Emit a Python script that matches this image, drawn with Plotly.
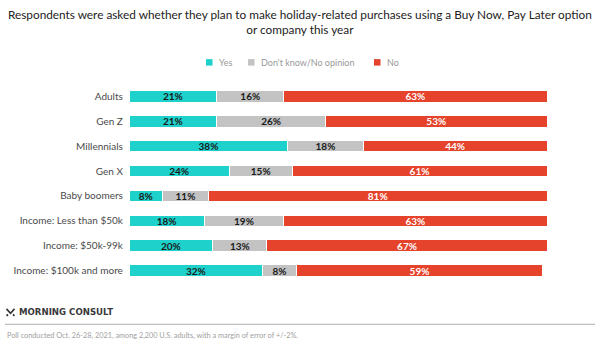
import plotly.graph_objects as go

categories = ["Adults", "Gen Z", "Millennials", "Gen X", "Baby boomers",
              "Income: Less than $50k", "Income: $50k-99k", "Income: $100k and more"]
yes = [21, 21, 38, 24, 8, 18, 20, 32]
dont_know = [16, 26, 18, 15, 11, 19, 13, 8]
no = [63, 53, 44, 61, 81, 63, 67, 59]

series = [
    ("Yes", yes, "#1fd1cb", "#1a1a1a"),
    ("Don't know/No opinion", dont_know, "#c3c3c3", "#1a1a1a"),
    ("No", no, "#e5432b", "#ffffff"),
]

FONT = "Lato"
W, H = 600, 343
L, R, T, B = 129, 53, 83.5, 59.5
PW, PH = W - L - R, H - T - B


def px(x):
    return (x - L) / PW


def py(y):
    return (H - B - y) / PH


fig = go.Figure()
for name, vals, color, tcolor in series:
    fig.add_trace(go.Bar(
        y=categories, x=vals, name=name, orientation="h",
        marker=dict(color=color, line=dict(color="white", width=1)),
        width=0.46,
        text=[f"<b>{v}%</b>" for v in vals], textposition="inside",
        insidetextanchor="middle", textangle=0,
        textfont=dict(color=tcolor, size=10, family=FONT),
        hoverinfo="skip", showlegend=False,
    ))

fig.update_layout(
    barmode="stack",
    width=W, height=H,
    margin=dict(l=L, r=R, t=T, b=B),
    plot_bgcolor="white", paper_bgcolor="white",
    font=dict(family=FONT, color="#444"),
    showlegend=False,
    xaxis=dict(range=[0, 100], visible=False, fixedrange=True),
    yaxis=dict(autorange="reversed", showgrid=False, showline=False,
               ticks="", tickfont=dict(size=10, color="#4a4a4a", family=FONT),
               ticksuffix="  "),
    uniformtext=dict(minsize=8, mode="show"),
)

# title
fig.add_annotation(
    text="Respondents were asked whether they plan to make holiday-related purchases using a Buy Now, Pay Later option<br>or company this year",
    x=px(300), xref="paper", xanchor="center", y=py(4), yref="paper", yanchor="top",
    showarrow=False, font=dict(size=11.8, color="#222", family=FONT),
)

# legend (manual)
legend_items = [(206, "Yes", "#1fd1cb"), (248, "Don't know/No opinion", "#c3c3c3"), (374, "No", "#e5432b")]
for x0, label, color in legend_items:
    fig.add_shape(type="rect", xref="paper", yref="paper",
                  x0=px(x0), x1=px(x0 + 6.5), y0=py(58.5), y1=py(65),
                  fillcolor=color, line=dict(width=0))
    fig.add_annotation(text=label, xref="paper", yref="paper",
                       x=px(x0 + 10.5), xanchor="left", y=py(62), yanchor="middle",
                       showarrow=False, font=dict(size=9, color="#999999", family=FONT))

# branding
fig.add_annotation(text="<b>MORNING CONSULT</b>", xref="paper", yref="paper",
                   x=px(17), xanchor="left", y=py(313), yanchor="middle",
                   showarrow=False, font=dict(size=8.6, color="#3a3a3a", family="DejaVu Sans"))
fig.add_annotation(text="Poll conducted Oct. 26-28, 2021, among 2,200 U.S. adults, with a margin of error of +/-2%.",
                   xref="paper", yref="paper",
                   x=px(5), xanchor="left", y=py(336), yanchor="middle",
                   showarrow=False, font=dict(size=7.3, color="#a0a0a0", family=FONT))
fig.add_shape(type="line", xref="paper", yref="paper",
              x0=px(5), x1=px(595), y0=py(325), y1=py(325),
              line=dict(color="#b0b0b0", width=1))
# logo mark
fig.add_shape(type="path", xref="paper", yref="paper",
              path=f"M {px(6.5)} {py(309.5)} L {px(10.5)} {py(314)} L {px(14.5)} {py(309.5)}",
              line=dict(color="#333", width=1.6))
fig.add_shape(type="path", xref="paper", yref="paper",
              path=f"M {px(6.5)} {py(316.5)} L {px(8)} {py(315)} M {px(13)} {py(315)} L {px(14.5)} {py(316.5)}",
              line=dict(color="#333", width=1.6))

fig.write_html("out.html")
